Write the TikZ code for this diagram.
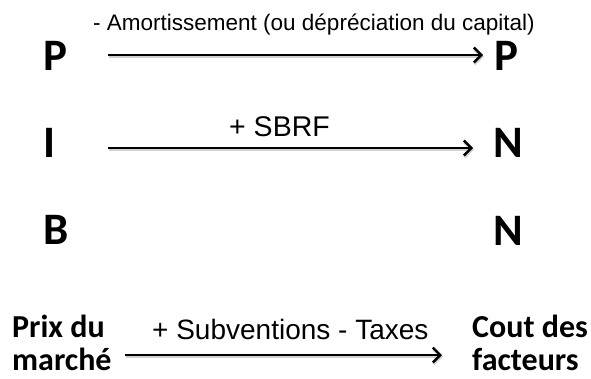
\documentclass[tikz,border=0pt]{standalone}
\usepackage{fontspec}
\setmainfont{Liberation Sans}
\newfontfamily\carl{Carlito}
\usetikzlibrary{arrows.meta}
\begin{document}
\begin{tikzpicture}[x=1pt,y=-1pt,
  big/.style={font=\carl\bfseries\fontsize{45}{47}\selectfont, inner sep=0pt},
  bot/.style={font=\carl\bfseries\fontsize{32}{33}\selectfont, inner sep=0pt, align=left, anchor=north west},
  lab/.style={inner sep=0pt, anchor=base west},
  arr/.style={line width=2.6pt, -{Straight Barb[length=7.5pt,width=15pt,line width=2.4pt]}},
  shad/.style={line width=3.2pt, black!18, -{Straight Barb[length=7.5pt,width=15pt,line width=3pt]}, transform canvas={xshift=1pt,yshift=-1.6pt}}
]
\useasboundingbox (0,0) rectangle (591,378);
% top row
\node[big] (P1) at (55,56) {P};
\node[big] (P2) at (506,56) {P};
\node[lab, font=\fontsize{22.5}{24}\selectfont] (L1) at (93,30) {- Amortissement (ou dépréciation du capital)};
\draw[shad] ([shift={(53pt,1pt)}]P1.center) -- ([shift={(-23pt,1pt)}]P2.center);
\draw[arr] ([shift={(53pt,1pt)}]P1.center) -- ([shift={(-23pt,1pt)}]P2.center);
% second row
\node[big] (I) at (49,143) {I};
\node[big] (N1) at (508,143) {N};
\node[lab, font=\fontsize{28.5}{30}\selectfont] (L2) at (229,136) {+ SBRF};
\draw[shad] ([shift={(59pt,-5pt)}]I.center) -- ([shift={(-35pt,-5pt)}]N1.center);
\draw[arr] ([shift={(59pt,-5pt)}]I.center) -- ([shift={(-35pt,-5pt)}]N1.center);
% third row
\node[big] (B) at (56,230) {B};
\node[big] (N2) at (508,231) {N};
% bottom row
\node[bot] (PM) at (12,315) {Prix du\\marché};
\node[bot] (CF) at (472,315) {Cout des\\facteurs};
\node[lab, font=\fontsize{28}{30}\selectfont] (L3) at (152,339) {+ Subventions - Taxes};
\draw[shad] ([shift={(113pt,-40pt)}]PM.north west) -- ([shift={(-30pt,-40pt)}]CF.north west);
\draw[arr] ([shift={(113pt,-40pt)}]PM.north west) -- ([shift={(-30pt,-40pt)}]CF.north west);
\end{tikzpicture}
\end{document}
